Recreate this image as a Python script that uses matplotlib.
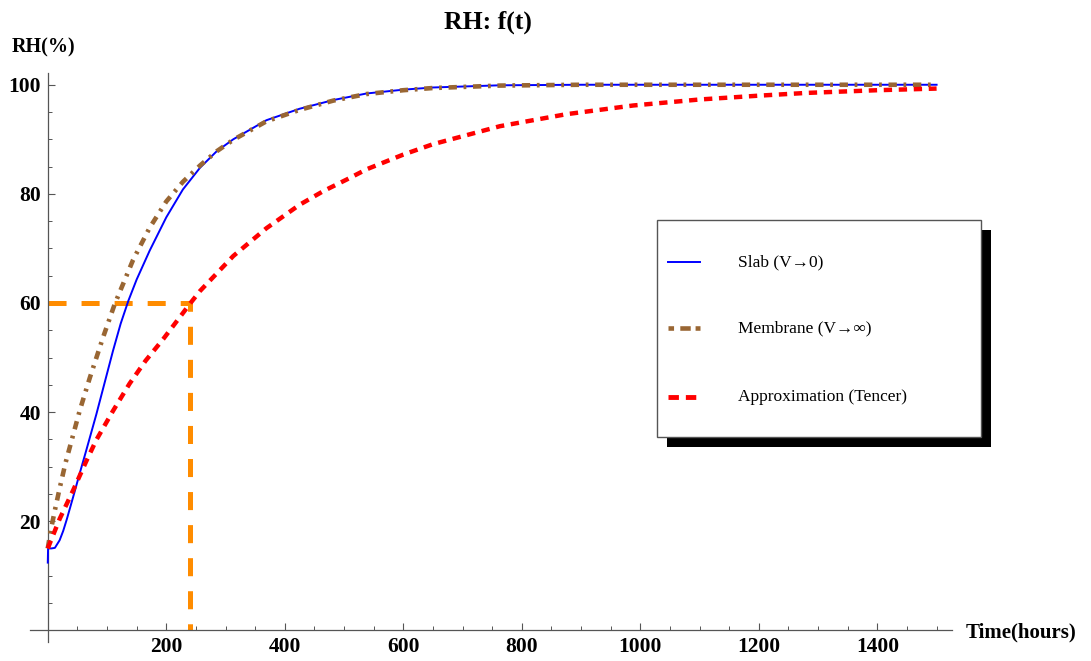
import matplotlib
matplotlib.use("Agg")
import matplotlib.pyplot as plt
from matplotlib.lines import Line2D
from matplotlib.patches import Rectangle
from matplotlib.ticker import MultipleLocator

plt.rcParams['font.family'] = ['Liberation Serif', 'DejaVu Serif']
plt.rcParams['lines.scale_dashes'] = False

# Slab (V -> 0)
t_slab = [0, 0.5, 6, 12, 20, 26, 32, 43, 54, 65, 82, 96, 110, 123, 136, 150, 172,
          200, 228, 257, 285, 313, 369, 425, 482, 538, 600, 650, 763, 900, 1100,
          1300, 1500]
rh_slab = [12.4, 15.0, 15.0, 15.1, 16.5, 18.2, 20.3, 24.5, 28.8, 33.0, 39.6, 45.4,
           51.2, 56.2, 60.4, 64.3, 69.6, 75.7, 80.8, 84.8, 87.8, 90.0, 93.5, 95.6,
           97.2, 98.4, 99.1, 99.5, 99.9, 100.0, 100.0, 100.0, 100.0]

# Membrane (V -> inf)
t_mem = [0, 5, 12, 20, 30, 40, 54, 71, 93, 113, 144, 172, 200, 228, 257, 285, 313,
         369, 425, 482, 538, 600, 650, 763, 900, 1100, 1300, 1500]
rh_mem = [15.0, 18.3, 22.0, 26.0, 30.7, 34.7, 40.3, 46.3, 53.6, 59.8, 67.9, 73.8,
          78.6, 82.2, 85.2, 87.8, 89.9, 93.3, 95.4, 97.1, 98.3, 99.0, 99.4, 99.85,
          100.0, 100.0, 100.0, 100.0]

# Approximation (Tencer)
t_app = [0, 20, 43, 65, 82, 110, 138, 165, 195, 241, 257, 313, 369, 425, 465, 504,
         538, 600, 650, 763, 875, 988, 1100, 1200, 1280, 1400, 1500]
rh_app = [15.0, 20.4, 25.7, 31.0, 34.9, 40.2, 45.2, 49.4, 53.4, 60.0, 62.2, 68.6,
          73.7, 78.0, 80.5, 82.6, 84.5, 87.2, 89.1, 92.4, 94.6, 96.2, 97.3, 98.0,
          98.5, 99.0, 99.3]

# guide lines at 60 % RH
t_guide = [0, 240, 240]
rh_guide = [60, 60, 0]

x_major = [200, 400, 600, 800, 1000, 1200, 1400]
y_major = [20, 40, 60, 80, 100]
labels = ["Slab (V\u21920)", "Membrane (V\u2192\u221e)", "Approximation (Tencer)"]

W, H = 1091, 661
fig = plt.figure(figsize=(W / 100, H / 100), dpi=100)
ax = fig.add_axes([30 / W, 19.3 / H, 922 / W, 568.4 / H])
ax.set_xlim(-30, 1526)
ax.set_ylim(-2.1, 102.1)

ax.plot(t_guide, rh_guide, color='#ff8c00', lw=3.6, dashes=(13, 10.8),
        dash_capstyle='butt', solid_joinstyle='miter', dash_joinstyle='miter',
        zorder=2)
ax.plot(t_slab, rh_slab, color='#0000ff', lw=1.4, zorder=3)
ax.plot(t_mem, rh_mem, color='#996633', lw=3.3, dashes=(6, 4.8, 2, 4.8),
        dash_capstyle='butt', zorder=4)
ax.plot(t_app, rh_app, color='#ff0000', lw=3.2, dashes=(6, 4.8),
        dash_capstyle='butt', zorder=5)

# Mathematica-like axes crossing at the origin
for s in ['top', 'right']:
    ax.spines[s].set_visible(False)
ax.spines['left'].set_position(('data', 0))
ax.spines['bottom'].set_position(('data', 0))
for s in ['left', 'bottom']:
    ax.spines[s].set_color('#555555')
    ax.spines[s].set_linewidth(0.9)

ax.set_xticks(x_major)
ax.set_yticks(y_major)
ax.xaxis.set_minor_locator(MultipleLocator(50))
ax.yaxis.set_minor_locator(MultipleLocator(5))
ax.tick_params(which='major', direction='in', length=5, width=0.8, color='#555555',
               labelsize=15.5, pad=5)
ax.tick_params(which='minor', direction='in', length=3, width=0.7, color='#555555')
for lab in ax.get_xticklabels() + ax.get_yticklabels():
    lab.set_fontweight('bold')

fig.text(488 / W, 1 - 22 / H, "RH: f(t)", ha='center', va='center',
         fontsize=18.5, fontweight='bold')
fig.text(12 / W, 1 - 47 / H, "RH(%)", ha='left', va='center',
         fontsize=14.5, fontweight='bold')
fig.text(966 / W, 1 - 632 / H, "Time(hours)", ha='left', va='center',
         fontsize=15, fontweight='bold')

# legend with black drop shadow
fig.add_artist(Rectangle((667 / W, 1 - 447 / H), 324 / W, 217 / H,
                         transform=fig.transFigure, facecolor='black',
                         edgecolor='none', zorder=10))
fig.add_artist(Rectangle((657 / W, 1 - 437 / H), 324 / W, 217 / H,
                         transform=fig.transFigure, facecolor='white',
                         edgecolor='#555555', lw=1, zorder=11))
styles = [dict(color='#0000ff', lw=1.4),
          dict(color='#996633', lw=3.3, dashes=(4, 4.5, 7.5, 3.5), dash_capstyle='butt'),
          dict(color='#ff0000', lw=3.5, dashes=(7.5, 5), dash_capstyle='butt')]
rows = [262, 328, 397]
for row, st, lab in zip(rows, styles, labels):
    y = 1 - row / H
    fig.add_artist(Line2D([668 / W, 700 / W], [y, y], transform=fig.transFigure,
                          zorder=12, **st))
    fig.text(738 / W, y, lab, ha='left', va='center', fontsize=12.5, zorder=12)

fig.savefig('out.png', dpi=100)
